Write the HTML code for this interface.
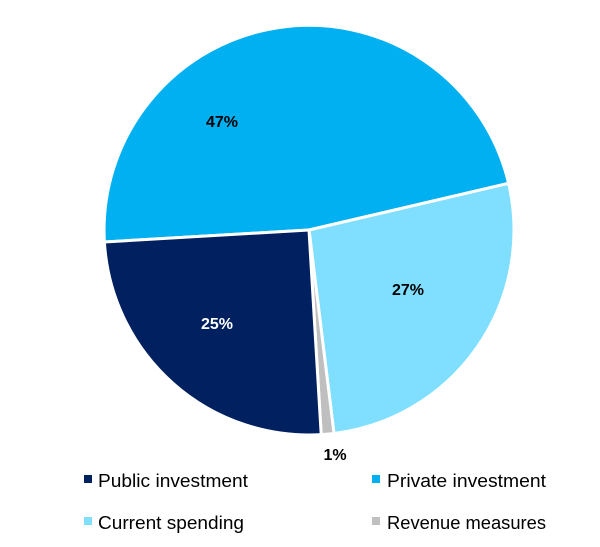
<!DOCTYPE html>
<html><head><meta charset="utf-8"><style>
body{margin:0;background:#fff;}
svg{display:block;font-family:"Liberation Sans",sans-serif;}
</style></head><body>
<svg width="600" height="547" viewBox="0 0 600 547">
<g stroke="#fff" stroke-width="3" stroke-linejoin="round">
<path d="M309,230 L104.4,242 A205,205 0 0 1 508.6,183.3 Z" fill="#00B0F0"/>
<path d="M309,230 L508.6,183.3 A205,205 0 0 1 334,433.5 Z" fill="#80DFFF"/>
<path d="M309,230 L334,433.5 A205,205 0 0 1 321.2,434.6 Z" fill="#BFBFBF"/>
<path d="M309,230 L321.2,434.6 A205,205 0 0 1 104.4,242 Z" fill="#002060"/>
</g>
<g font-weight="bold" font-size="16" text-anchor="middle">
<text x="222" y="127" fill="#000">47%</text>
<text x="408" y="295" fill="#000">27%</text>
<text x="217" y="329" fill="#fff">25%</text>
<text x="335" y="460" fill="#000">1%</text>
</g>
<g font-size="18" fill="#000">
<rect x="84" y="475" width="8" height="8" fill="#002060"/>
<text x="98" y="487" textLength="150" lengthAdjust="spacingAndGlyphs">Public investment</text>
<rect x="372" y="475" width="8" height="8" fill="#00B0F0"/>
<text x="387" y="487" textLength="159" lengthAdjust="spacingAndGlyphs">Private investment</text>
<rect x="84" y="517" width="8" height="8" fill="#80DFFF"/>
<text x="98" y="529" textLength="146" lengthAdjust="spacingAndGlyphs">Current spending</text>
<rect x="372" y="517" width="8" height="8" fill="#BFBFBF"/>
<text x="387" y="529" textLength="159" lengthAdjust="spacingAndGlyphs">Revenue measures</text>
</g>
</svg>
</body></html>
